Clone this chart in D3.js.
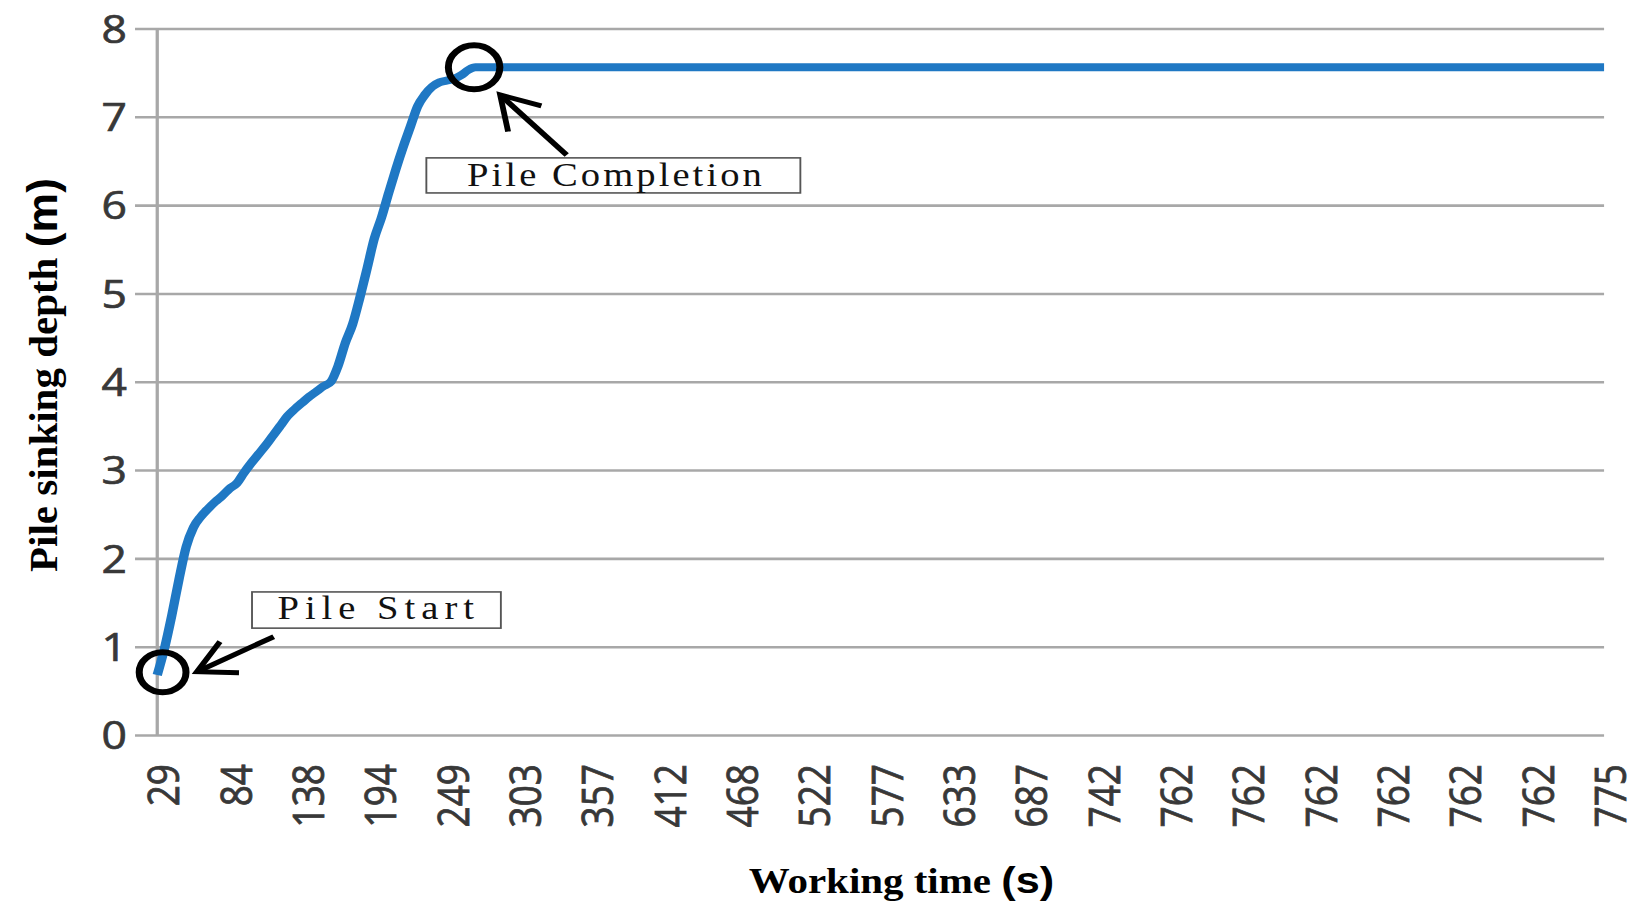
<!DOCTYPE html>
<html>
<head>
<meta charset="utf-8">
<script src="https://cdn.jsdelivr.net/npm/d3@7.9.0/dist/d3.min.js"></script>
<style>
  html, body { margin: 0; padding: 0; background: #fff; }
  svg { display: block; }
</style>
</head>
<body>
<svg id="chart"></svg>
<script>
// category labels on the time axis, one every 10 samples
const timeLabels = ['29', '84', '138', '194', '249', '303', '357', '412', '468', '522', '577',
  '633', '687', '742', '762', '762', '762', '762', '762', '762', '775'];
const samplesPerLabel = 10;

// pile sinking depth (m) per sample; stays flat from 44 to the last sample
const sampleNo = [0, 1, 2, 3, 4, 5, 6, 7, 8, 9, 10, 11, 12, 13, 14, 15, 16, 17, 18, 19, 20,
  21, 22, 23, 24, 25, 26, 27, 28, 29, 30, 31, 32, 33, 34, 35, 36, 37, 38, 39, 40,
  41, 42, 43, 44, 200];
const depth = [0.68, 0.98, 1.35, 1.76, 2.13, 2.35, 2.47, 2.56, 2.64, 2.71, 2.79,
  2.85, 2.97, 3.08, 3.18, 3.28, 3.39, 3.50, 3.61, 3.69, 3.76,
  3.83, 3.89, 3.95, 4.00, 4.18, 4.44, 4.65, 4.95, 5.28, 5.62,
  5.86, 6.14, 6.41, 6.66, 6.89, 7.12, 7.25, 7.34, 7.39, 7.41,
  7.43, 7.47, 7.53, 7.56, 7.56];

const yTicks = [0, 1, 2, 3, 4, 5, 6, 7, 8];

// annotations in data units (sample, depth)
const startMark = { s: 0.74, d: 0.71, r: 20 };
const endMark = { s: 43.8, d: 7.56, r: 22 };
const startLabel = { text: 'Pile Start', s0: 13.1, s1: 47.5, d0: 1.62, d1: 1.21, tx: 30.2, ty: 1.31, len: 168 };
const endLabel = { text: 'Pile Completion', s0: 37.2, s1: 88.9, d0: 6.535, d1: 6.138, tx: 63.2, ty: 6.217, len: 252 };
const startArrow = { shaft: [[16.1, 1.113], [5.5, 0.717]], head: [[8.67, 1.057], [5.5, 0.717], [11.3, 0.706]] };
const endArrow = { shaft: [[56.6, 6.568], [47.4, 7.248]], head: [[53.1, 7.124], [47.4, 7.248], [48.5, 6.832]] };

// the original picture is stretched horizontally, so draw in a narrower box and stretch it
const stretch = 1.17;
const W = 1645, H = 922;
const vbW = W / stretch;
const plotL = 134.4, plotR = 1371, plotT = 28.5, plotB = 735;

const svg = d3.select('#chart')
  .attr('width', W).attr('height', H)
  .attr('viewBox', `0 0 ${vbW} ${H}`)
  .attr('preserveAspectRatio', 'none');

const x = d3.scaleLinear().domain([0, samplesPerLabel * (timeLabels.length - 1)]).range([plotL, plotR]);
const y = d3.scaleLinear().domain([0, 8]).range([plotB, plotT]);

// gridlines + y labels
const yAxis = svg.append('g')
  .attr('transform', `translate(${plotR},0)`)
  .call(d3.axisLeft(y).tickValues(yTicks).tickSize(plotR - plotL + 19).tickPadding(7));
yAxis.select('.domain').remove();
yAxis.selectAll('line').attr('stroke', '#a8a8a8').attr('stroke-width', 2.6);
yAxis.selectAll('text')
  .attr('fill', '#383838')
  .attr('stroke', '#383838').attr('stroke-width', 0.7)
  .attr('font-family', '"Open Sans", sans-serif')
  .attr('font-size', 38)
  .attr('dy', '0.36em');

// vertical axis line
svg.append('line')
  .attr('x1', x(0)).attr('x2', x(0))
  .attr('y1', y(8)).attr('y2', y(0))
  .attr('stroke', '#a8a8a8').attr('stroke-width', 2.8);

// x labels
const xAxis = svg.append('g')
  .attr('transform', `translate(0,${plotB})`)
  .call(d3.axisBottom(x)
    .tickValues(timeLabels.map((_, i) => i * samplesPerLabel))
    .tickFormat((d, i) => timeLabels[i])
    .tickSize(0));
xAxis.select('.domain').remove();
xAxis.selectAll('text')
  .attr('fill', '#383838')
  .attr('stroke', '#383838').attr('stroke-width', 0.7)
  .attr('font-family', '"Open Sans", sans-serif')
  .attr('font-size', 37)
  .attr('x', 0).attr('y', 0)
  .attr('dy', '0.36em')
  .attr('text-anchor', 'end')
  .attr('transform', 'translate(5,29) rotate(-90)');

// depth curve
const pts = sampleNo.map((s, i) => ({ s, d: depth[i] }));
const line = d3.line().x(d => x(d.s)).y(d => y(d.d)).curve(d3.curveMonotoneX);
svg.append('path')
  .datum(pts)
  .attr('d', line)
  .attr('fill', 'none')
  .attr('stroke', '#1f78c4')
  .attr('stroke-width', 8)
  .attr('stroke-linejoin', 'round');

// circles
[startMark, endMark].forEach(m => {
  svg.append('circle')
    .attr('cx', x(m.s)).attr('cy', y(m.d)).attr('r', m.r)
    .attr('fill', 'none').attr('stroke', '#000').attr('stroke-width', 6);
});

// arrows
const seg = d3.line().x(p => x(p[0])).y(p => y(p[1]));
[startArrow, endArrow].forEach(a => {
  svg.append('path').attr('d', seg(a.shaft))
    .attr('fill', 'none').attr('stroke', '#000').attr('stroke-width', 5);
  svg.append('path').attr('d', seg(a.head))
    .attr('fill', 'none').attr('stroke', '#000').attr('stroke-width', 5)
    .attr('stroke-linejoin', 'miter');
});

// label boxes
[startLabel, endLabel].forEach(b => {
  svg.append('rect')
    .attr('x', x(b.s0)).attr('y', y(b.d0))
    .attr('width', x(b.s1) - x(b.s0)).attr('height', y(b.d1) - y(b.d0))
    .attr('fill', '#fff').attr('stroke', '#555').attr('stroke-width', 1.6);
  svg.append('text')
    .attr('x', x(b.tx)).attr('y', y(b.ty))
    .attr('text-anchor', 'middle')
    .attr('font-family', '"Liberation Serif", serif')
    .attr('font-size', 33)
    .attr('fill', '#111')
    .attr('textLength', b.len)
    .attr('lengthAdjust', 'spacing')
    .text(b.text);
});

// axis titles
const xt = svg.append('text')
  .attr('x', 770.5).attr('y', 893)
  .attr('text-anchor', 'middle')
  .attr('font-family', '"Liberation Serif", serif')
  .attr('font-weight', 'bold')
  .attr('font-size', 35)
  .attr('fill', '#000');
xt.append('tspan').text('Working time ');
xt.append('tspan').attr('font-family', '"Liberation Sans", sans-serif').attr('font-size', 37).text('(s)');

const yt = svg.append('text')
  .attr('transform', 'translate(48.5,375) rotate(-90)')
  .attr('text-anchor', 'middle')
  .attr('font-family', '"Liberation Serif", serif')
  .attr('font-weight', 'bold')
  .attr('font-size', 34)
  .attr('fill', '#000')
  .attr('textLength', 394)
  .attr('lengthAdjust', 'spacingAndGlyphs');
yt.append('tspan').text('Pile sinking depth ');
yt.append('tspan').attr('font-family', '"Liberation Sans", sans-serif').attr('font-size', 37).text('(m)');
</script>
</body>
</html>
